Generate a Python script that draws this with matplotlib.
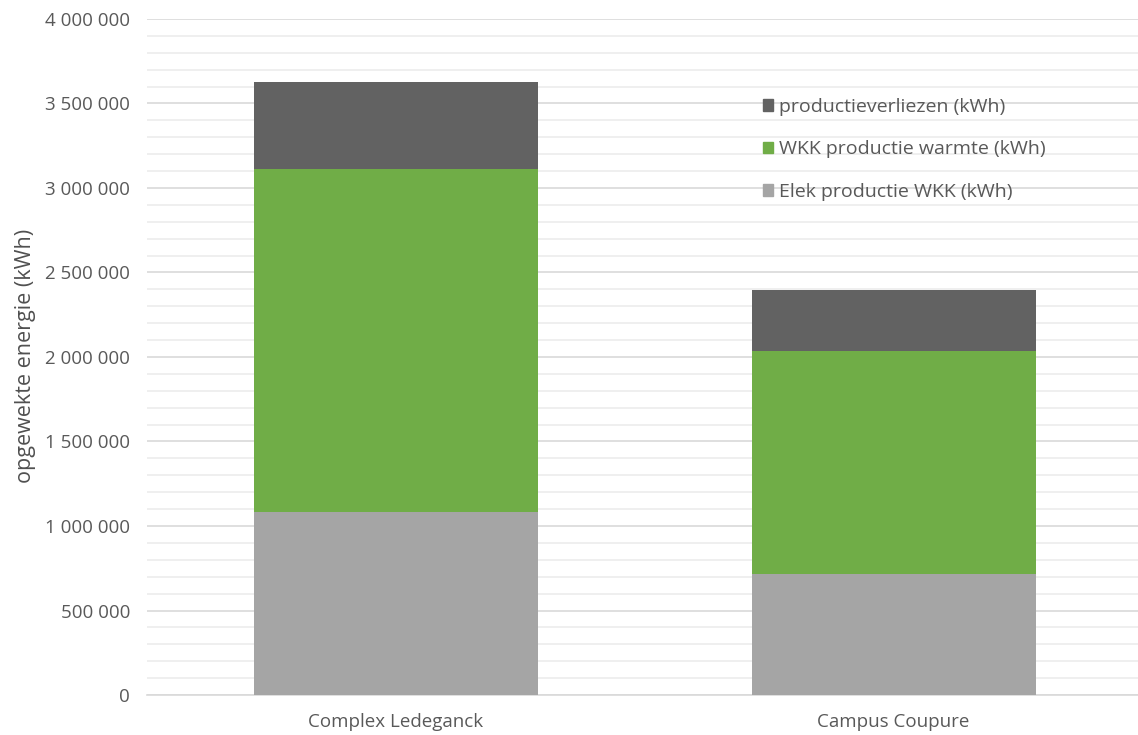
import numpy as np
import matplotlib.pyplot as plt
from matplotlib.ticker import FuncFormatter, MultipleLocator
from matplotlib.patches import Patch

plt.rcParams['font.family'] = ['Open Sans', 'DejaVu Sans']

locaties = ['Complex Ledeganck', 'Campus Coupure']
elek_wkk = [1083000, 716000]
warmte_wkk = [2029000, 1320000]
verliezen = [515000, 360000]

kleur_elek = '#a5a5a5'
kleur_warmte = '#70ad47'
kleur_verlies = '#626262'

fig = plt.figure(figsize=(11.38, 7.35), dpi=100)
ax = fig.add_axes([0.129, 0.0544, 0.875, 0.9198])

x = np.arange(len(locaties))
b = 0.57
ax.bar(x, elek_wkk, b, color=kleur_elek, zorder=3)
ax.bar(x, warmte_wkk, b, bottom=elek_wkk, color=kleur_warmte, zorder=3)
onder = np.array(elek_wkk) + np.array(warmte_wkk)
ax.bar(x, verliezen, b, bottom=onder, color=kleur_verlies, zorder=3)

ax.set_xlim(-0.5, 1.5)
ax.set_ylim(0, 4000000)
ax.yaxis.set_major_locator(MultipleLocator(500000))
ax.yaxis.set_minor_locator(MultipleLocator(100000))
ax.yaxis.set_major_formatter(FuncFormatter(lambda v, p: f"{int(v):,}".replace(',', ' ')))
ax.grid(axis='y', which='minor', color='#ececec', lw=1.2, zorder=0)
ax.grid(axis='y', which='major', color='#d9d9d9', lw=1.2, zorder=0)

for s in ['top', 'right', 'left']:
    ax.spines[s].set_visible(False)
ax.spines['bottom'].set_color('#d9d9d9')
ax.spines['bottom'].set_linewidth(1.2)

ax.set_xticks(x)
ax.set_xticklabels(locaties)
ax.tick_params(axis='both', which='both', length=0, colors='#595959', labelsize=13.5)
ax.tick_params(axis='y', pad=12)
ax.tick_params(axis='x', pad=13)

ax.set_ylabel('opgewekte energie (kWh)', fontsize=15.5, color='#505050')
ax.yaxis.set_label_coords(-0.111, 0.501)

handles = [Patch(color=kleur_verlies), Patch(color=kleur_warmte), Patch(color=kleur_elek)]
labels = ['productieverliezen (kWh)', 'WKK productie warmte (kWh)', 'Elek productie WKK (kWh)']
leg = ax.legend(handles, labels, loc='upper left', bbox_to_anchor=(0.601, 0.909),
                frameon=False, fontsize=14, labelspacing=1.25, handlelength=0.55,
                handleheight=0.55, handletextpad=0.3, labelcolor='#595959')

fig.savefig('out.png', dpi=100)
